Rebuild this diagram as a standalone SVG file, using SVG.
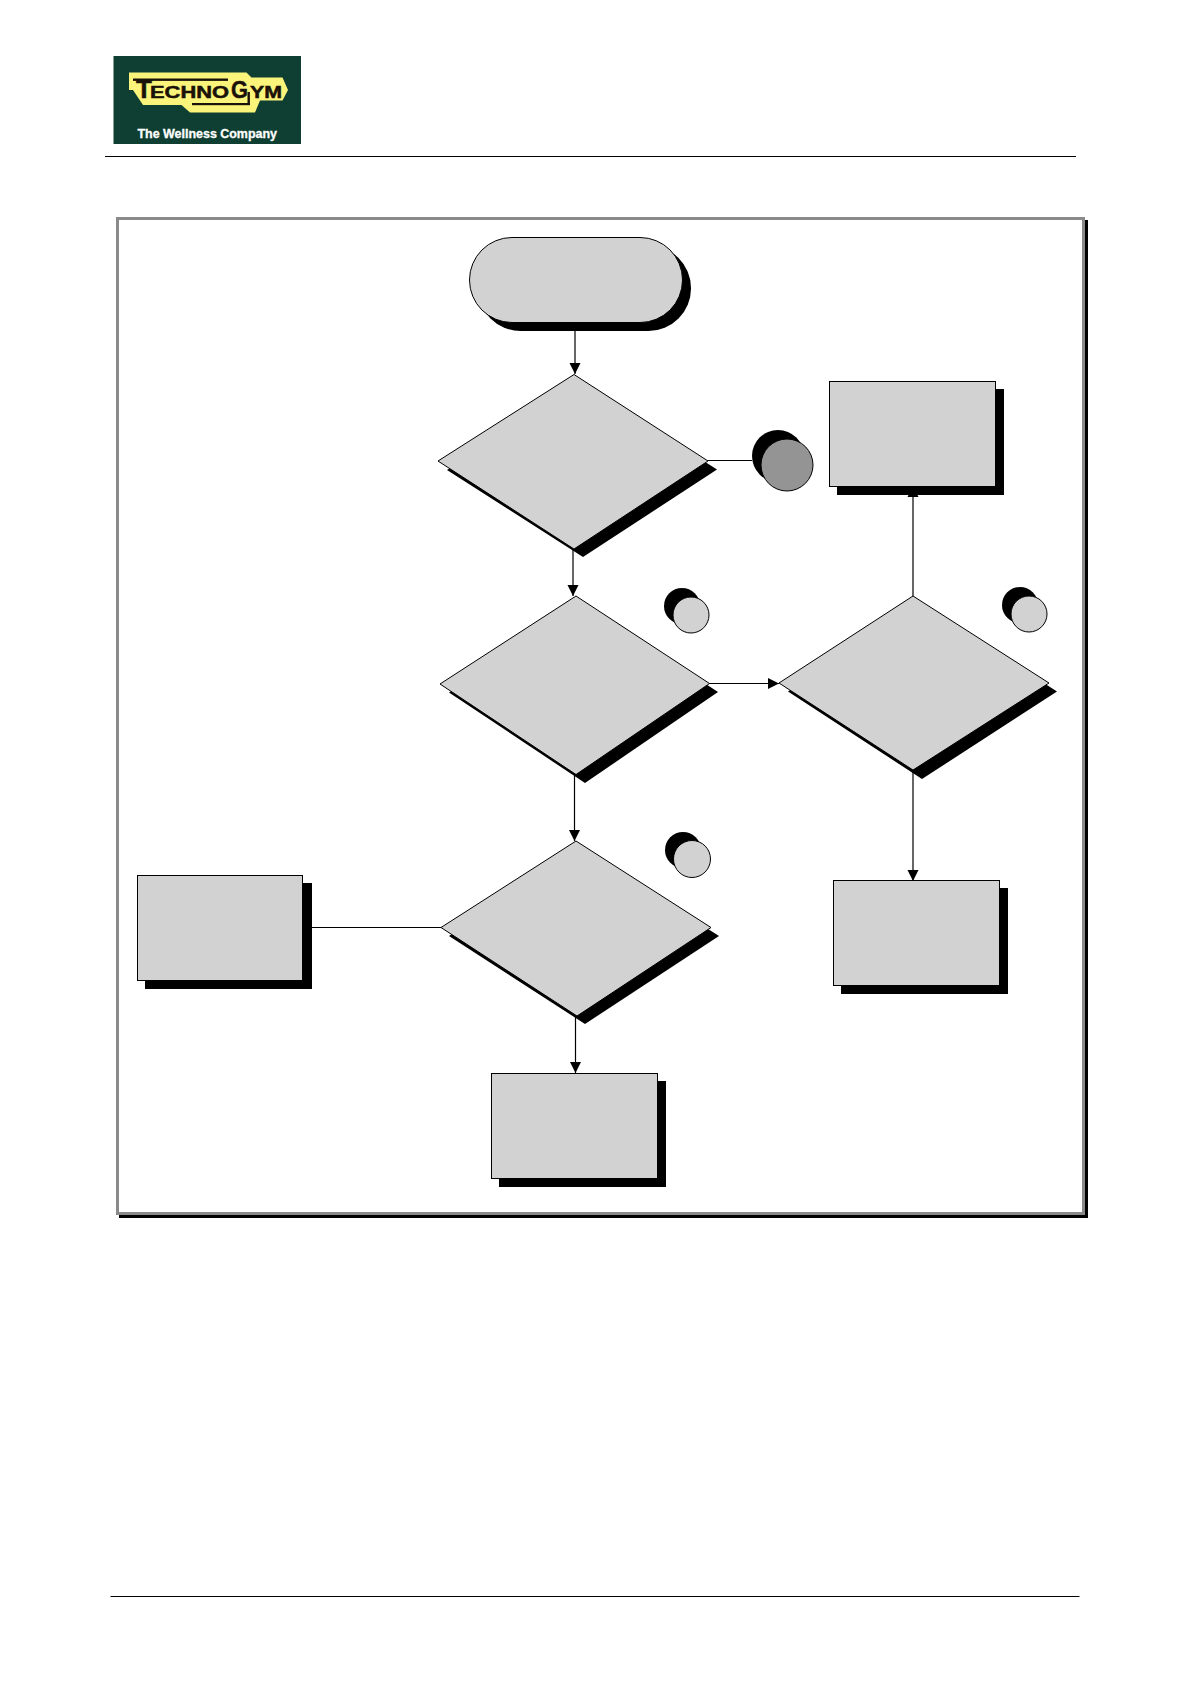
<svg xmlns="http://www.w3.org/2000/svg" width="1191" height="1684" viewBox="0 0 1191 1684">
<style>
.s{fill:#000}
.n{fill:#d2d2d2;stroke:#000;stroke-width:1}
.k{fill:#949494;stroke:#000;stroke-width:1}
.c{fill:none;stroke:#000;stroke-width:1.2}
.lg{font-family:"Liberation Sans",Arial,sans-serif;font-weight:700}
.d{fill:#1a1208;stroke:#1a1208;stroke-width:.5}
</style>
<defs>
<marker id="a" markerUnits="userSpaceOnUse" markerWidth="12" markerHeight="12" refX="11" refY="6" orient="auto"><path d="M0,0.5 L11,6 L0,11.5 Z" fill="#000"/></marker>
</defs>
<rect width="1191" height="1684" fill="#fff"/>
<g id="logo">
<rect x="113.500" y="56" width="187.500" height="88" fill="#0e3f32"/>
<path d="M129,72.500 H246.500 L251.500,77.500 H282.500 L288,90 L282.500,100.500 H260 L255,112.500 H190 L181.500,105 H143 L133,90 H129 Z" fill="#fbf47a"/>
<rect x="133" y="78.500" width="95" height="2.400" fill="#1a1208"/>
<rect x="192" y="103" width="58" height="2.200" fill="#1a1208"/>
<rect x="247.500" y="92" width="2.400" height="13" fill="#1a1208"/>
<text class="lg d" x="136" y="98" font-size="26">T</text>
<text class="lg d" x="150" y="98" font-size="17" textLength="79" lengthAdjust="spacingAndGlyphs">ECHNO</text>
<text class="lg d" x="231" y="98" font-size="24" textLength="17" lengthAdjust="spacingAndGlyphs">G</text>
<text class="lg d" x="250" y="98" font-size="17" textLength="32" lengthAdjust="spacingAndGlyphs">YM</text>
<text class="lg" x="137.500" y="138" font-size="12.500" fill="#fff" stroke="#fff" stroke-width=".3" textLength="139.500" lengthAdjust="spacingAndGlyphs">The Wellness Company</text>
</g>
<g id="page-lines">
<rect x="105" y="156" width="971" height="1" fill="#000"/>
<rect x="110.500" y="1596" width="969" height="1" fill="#000"/>
</g>
<g id="frame">
<path d="M119,1215 V1218 H1088 V220 H1085 V1215 Z" fill="#000"/>
<rect x="117.500" y="218.500" width="966" height="995" fill="#fff" stroke="#8a8a8a" stroke-width="3"/>
</g>
<g id="connectors">
<path class="c" d="M575,330 V374" marker-end="url(#a)"/>
<path class="c" d="M707,460.500 H752"/>
<path class="c" d="M573,549 V596" marker-end="url(#a)"/>
<path class="c" d="M709,683.500 H779" marker-end="url(#a)"/>
<path class="c" d="M913,596 V486" marker-end="url(#a)"/>
<path class="c" d="M913,770 V881" marker-end="url(#a)"/>
<path class="c" d="M574.500,774 V841" marker-end="url(#a)"/>
<path class="c" d="M312,927.500 H441"/>
<path class="c" d="M575.500,1016 V1073" marker-end="url(#a)"/>
</g>
<g id="start">
<rect class="s" x="478" y="245.500" width="213" height="85.500" rx="42.500"/>
<rect class="n" x="469.500" y="237.500" width="213" height="85" rx="42.500"/>
</g>
<g id="decision-1">
<path class="s" d="M447,470 L583,384 L717,469.500 L583,557 Z"/>
<path class="n" d="M438,461 L574,374.500 L708,461 L574,549 Z"/>
</g>
<g id="off-page-1">
<circle class="s" cx="778" cy="456" r="26"/>
<circle class="k" cx="787" cy="465" r="26"/>
</g>
<g id="decision-2">
<path class="s" d="M449,692.500 L585,605 L718,692 L585,783 Z"/>
<path class="n" d="M440,684 L576,596 L709.500,683.500 L576,774.500 Z"/>
</g>
<g id="marker-2">
<circle class="s" cx="682" cy="606" r="18"/>
<circle class="n" cx="691" cy="615" r="18"/>
</g>
<g id="decision-right">
<path class="s" d="M788,691.500 L922,605 L1057,691.500 L922,779 Z"/>
<path class="n" d="M779,683 L913,596 L1049,683 L913,770 Z"/>
</g>
<g id="marker-right">
<circle class="s" cx="1020" cy="605" r="18"/>
<circle class="n" cx="1029" cy="614" r="18"/>
</g>
<g id="process-top-right">
<rect class="s" x="837" y="389" width="167" height="106"/>
<rect class="n" x="829.500" y="381.500" width="166" height="105"/>
</g>
<g id="process-lower-right">
<rect class="s" x="841" y="888" width="167" height="106"/>
<rect class="n" x="833.500" y="880.500" width="166" height="105"/>
</g>
<g id="decision-3">
<path class="s" d="M449,936 L584,850 L719,936 L585,1024 Z"/>
<path class="n" d="M441,927.500 L576,841 L711,927.500 L577,1016 Z"/>
</g>
<g id="marker-3">
<circle class="s" cx="683" cy="850" r="18"/>
<circle class="n" cx="692" cy="859" r="18.500"/>
</g>
<g id="process-left">
<rect class="s" x="145" y="883" width="167" height="106"/>
<rect class="n" x="137.500" y="875.500" width="165" height="105"/>
</g>
<g id="process-bottom">
<rect class="s" x="499" y="1081" width="167" height="106"/>
<rect class="n" x="491.500" y="1073.500" width="166" height="105"/>
</g>
</svg>
